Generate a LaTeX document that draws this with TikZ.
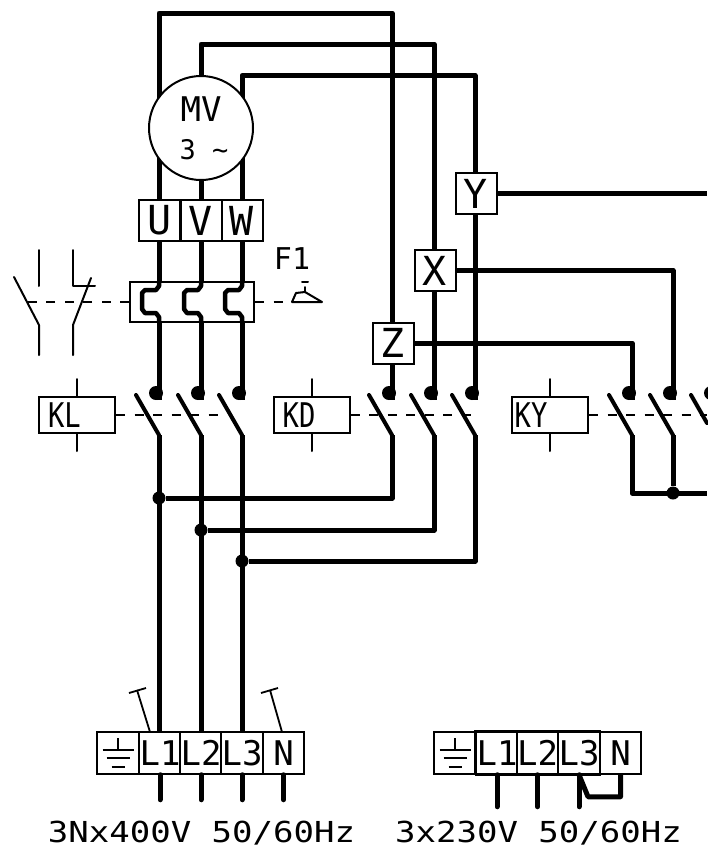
\documentclass[tikz,border=0pt]{standalone}
\usepackage{fontspec}
\setmonofont{DejaVu Sans Mono}
\usetikzlibrary{backgrounds}
\newcommand{\fs}[1]{\ttfamily\fontsize{#1}{#1}\selectfont}
\newcommand{\narrow}[1]{\scalebox{.8}[1]{#1}}
\tikzset{
  wire/.style={line width=5pt,line join=round},
  capwire/.style={wire,line cap=round},
  blade/.style={line width=4pt,line cap=round,line join=round},
  thin wire/.style={line width=2pt,line cap=round,line join=round},
  link/.style={line width=2pt,dash pattern=on 9pt off 9.5pt},
  box/.style={draw,line width=2pt,fill=white,inner sep=0pt,text=black},
  term/.style={box,minimum width=41pt,minimum height=41pt,font=\fs{40}},
  busterm/.style={box,minimum width=41.5pt,minimum height=41.5pt,font=\fs{34}},
  coil/.style={box,minimum width=76pt,minimum height=36pt,font=\fs{34}},
  joint/.style={circle,fill=black,inner sep=0pt,minimum size=13pt},
  contactdot/.style={circle,fill=black,inner sep=0pt,minimum size=14pt},
  txt/.style={inner sep=0pt,font=\fs{34}},
}
\begin{document}
\begin{tikzpicture}[x=1pt,y=-1pt]
\useasboundingbox (0,0) rectangle (707,846);
% --- motor and terminals
\node[box,circle,minimum size=104pt,align=center,font=\fs{34}] (motor) at (201,128) {};
\node[txt,font=\fs{34}] (mv) at (201,109) {MV};
\node[txt,font=\fs{27}] (three) at (204,150) {3 \char`\~};
\node[term] (U) at (159.5,220.5) {U};
\node[term] (V) at (201,220.5) {V};
\node[term] (W) at (242,220.5) {W};
\node[box,minimum width=124pt,minimum height=40pt] (F1box) at (192,302) {};
\node[term] (Y) at (476,193.5) {Y};
\node[term] (X) at (435,270.5) {X};
\node[term] (Z) at (393,343) {Z};
\node[coil] (KL) at (77,415) {\narrow{KL}\kern25pt\relax};
\node[coil] (KD) at (311.5,415) {\narrow{KD}\kern25pt\relax};
\node[coil] (KY) at (550,415) {\narrow{KY}\kern38pt\relax};
\node[txt,font=\fs{30}] (F1) at (292,259) {F1};
% --- contact feed points
\foreach \n/\x in {a/159,b/201,c/242,d/392,e/434,f/475,g/632,h/673}{
  \coordinate (t\n) at (\x,400);
  \coordinate (m\n) at (\x,435);
  \coordinate (o\n) at (\x-23,395);
  \node[contactdot] (dot\n) at (\x-3,393) {};
}
\coordinate (ti) at (707,400);
\node[contactdot] (doti) at (711,393) {};
% --- main wires, below the boxes
\begin{scope}[on background layer]
  \draw[wire] (ta) -- (159,13) -- (392,13) -- (td);
  \draw[wire] (tb) -- (201,44) -- (434,44) -- (te);
  \draw[wire] (tc) -- (242,75.5) -- (475,75.5) -- (tf);
  \draw[link] (KL.east) -- (225,415);
  \draw[link] (KD.east) -- (KD.east -| mf);
  \draw[link] (KY.east) -- (707,415);
\end{scope}
\draw[wire] (Y.east) -- (707,193.5);
\draw[wire] (X.east) -- (673,270.5) -- (th);
\draw[wire] (Z.east) -- (632,343) -- (tg);
% --- thermal element jogs
\foreach \x in {159,201,242}{
  \draw[wire,line width=4.5pt] (\x,283) -- (\x,286) -- (\x-3,290) -- (\x-14,290) -- (\x-17,293)
     -- (\x-17,309) -- (\x-14,313) -- (\x-3,313) -- (\x,317) -- (\x,322);
}
% --- contact blades and dashed link, coil stubs
\foreach \n in {a,b,c,d,e,f,g,h}{
  \draw[blade] (o\n) -- (m\n);
}
\draw[blade] (691,395) -- (707,423);
\foreach \c in {KL,KD,KY}{
  \draw[thin wire] (\c.north) -- ++(0,-17);
  \draw[thin wire] (\c.south) -- ++(0,17);
}
% --- outgoing busses
\coordinate (bota) at (159,774);
\coordinate (botb) at (201,774);
\coordinate (botc) at (242,774);
\begin{scope}[on background layer]
  \draw[wire] (ma) -- (bota);
  \draw[wire] (mb) -- (botb);
  \draw[wire] (mc) -- (botc);
\end{scope}
\node[joint] (ja) at (159,498) {};
\node[joint] (jb) at (201,530) {};
\node[joint] (jc) at (242,561) {};
\node[joint] (jh) at (673,493) {};
\draw[wire] (ja) -- (392,498) -- (md);
\draw[wire] (jb) -- (434,530) -- (me);
\draw[wire] (jc) -- (475,561) -- (mf);
\draw[wire] (mg) -- (632,493) -- (707,493);
\draw[wire] (mh) -- (jh);
% --- auxiliary contacts at F1
\coordinate (auxA) at (39,325);
\coordinate (auxB) at (73,325);
\draw[thin wire] (39,250) -- (39,286);
\draw[thin wire] (14,277) -- (auxA) -- (39,355);
\draw[thin wire] (95,286) -- (73,286) -- (73,250);
\draw[thin wire] (91,278) -- (auxB) -- (73,355);
\draw[link] (F1box.west) -- (28,302);
\draw[link] (F1box.east) -- (290,302);
\draw[thin wire] (302,282) -- (308,282);
\draw[thin wire] (305,287) -- (305,292);
\draw[thin wire] (292,302) -- (296,293) -- (305,292) -- (322,302) -- (292,302);
% --- left terminal block
\node[busterm] (ELa) at (118,753) {};
\node[busterm] (L1a) at (160,753) {L1};
\node[busterm] (L2a) at (201,753) {L2};
\node[busterm] (L3a) at (242,753) {L3};
\node[busterm] (Na) at (283.5,753) {N};
% --- right terminal block
\node[busterm] (ELb) at (455,753) {};
\node[busterm] (L1b) at (497,753) {L1};
\node[busterm] (L2b) at (537.5,753) {L2};
\node[busterm] (L3b) at (579,753) {L3};
\node[busterm] (Nb) at (620.5,753) {N};
\draw[line width=3pt] (L1b.south west) -- (L1b.north west) -- (L3b.north east);
\draw[line width=3pt] (L1b.south west) -- (L3b.south east);
% --- earth symbols
\foreach \e in {ELa,ELb}{
  \draw[line width=2pt] (\e.center) ++(0,-15) -- ++(0,12);
  \draw[line width=2pt] (\e.center) ++(-15.5,-3) -- ++(31,0);
  \draw[line width=2pt] (\e.center) ++(-11.5,5) -- ++(23,0);
  \draw[line width=2pt] (\e.center) ++(-6.5,14) -- ++(13,0);
}
% --- terminal stubs and jumper
\foreach \t in {L1a,L2a,L3a,Na}{
  \draw[capwire] (\t.south) -- ++(0,25);
}
\foreach \t in {L1b,L2b,L3b}{
  \draw[capwire] (\t.south) -- ++(0,32);
}
\draw[wire] (L3b.south) -- ++(9,22) -- ++(32.5,0) -- (Nb.south);
% --- pull-tabs
\coordinate (teeA) at (137,690);
\coordinate (teeB) at (270,690);
\draw[line width=1.8pt] (150,732) -- (teeA);
\draw[line width=1.8pt] (129,693) -- (146,688);
\draw[line width=1.8pt] (282,732) -- (teeB);
\draw[line width=1.8pt] (261,693) -- (278,688);
% --- captions
\node[txt,yscale=.85,anchor=base] (capA) at (201.5,842) {3Nx400V 50/60Hz};
\node[txt,yscale=.85,anchor=base] (capB) at (538.5,842) {3x230V 50/60Hz};
\end{tikzpicture}
\end{document}
